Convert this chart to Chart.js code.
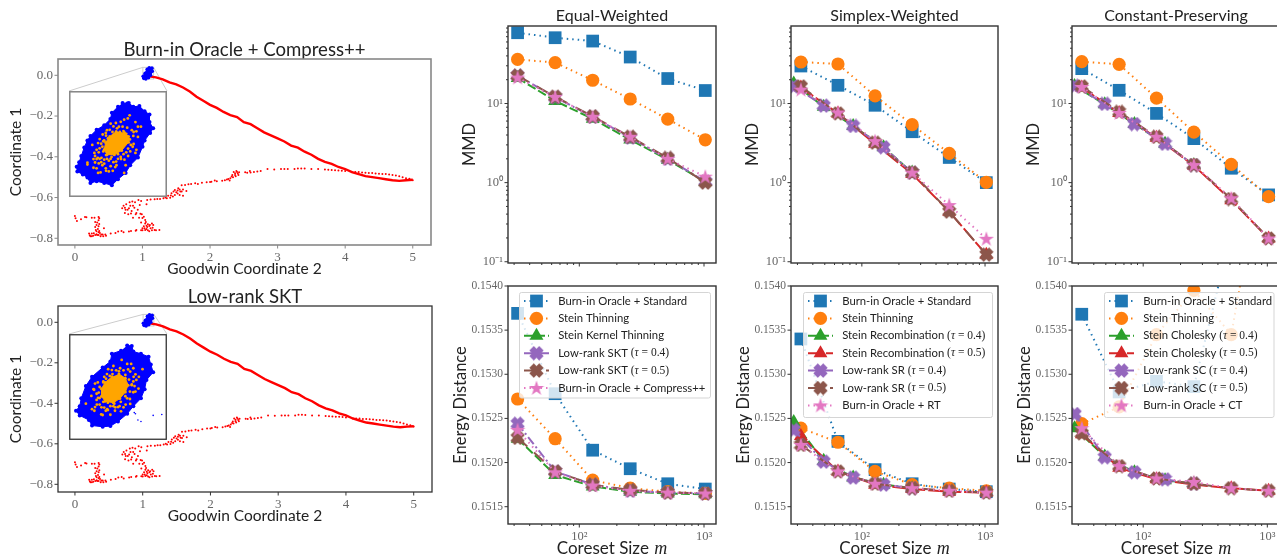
<!DOCTYPE html>
<html>
<head>
<meta charset="utf-8">
<title>Coreset comparison</title>
<script src="https://cdn.jsdelivr.net/npm/chart.js@4/dist/chart.umd.js"></script>
<style>
  html, body { margin: 0; padding: 0; background: #fff; width: 1277px; height: 557px; overflow: hidden; }
  #page { position: relative; width: 1277px; height: 557px; overflow: hidden; }
  canvas { position: absolute; }
</style>
</head>
<body>
<div id="page"></div>
<script>
// --- shared x values ---
const coresetSizes = [32, 64, 128, 256, 512, 1024];
const tauFourSizes = [28, 49, 85, 150, 256];

// --- tick values ---
const xTickValues = [30, 40, 50, 60, 70, 80, 90, 100, 200, 300, 400, 500, 600, 700, 800, 900, 1000];
const mmdTickValues = [0.1, 0.2, 0.3, 0.4, 0.5, 0.6, 0.7, 0.8, 0.9, 1, 2, 3, 4, 5, 6, 7, 8, 9, 10, 20, 30, 40, 50, 60, 70, 80, 90];
const energyTickValues = [0.1515, 0.152, 0.1525, 0.153, 0.1535, 0.154];
const goodwinTickValues = [0, 1, 2, 3, 4, 5];
const coordTickValues = [0, -0.2, -0.4, -0.6, -0.8];

// --- Equal-Weighted, MMD ---
const eqMmdStandard = [78.5, 67.9, 61.6, 38.7, 20.7, 14.6];
const eqMmdStein = [36.2, 32.9, 19.7, 11.4, 6.35, 3.48];
const eqMmdSkt = [21, 10.8, 6.4, 3.5, 1.95, 1.02];
const eqMmdLow4 = [22.5, 12, 6.8, 3.7, 2, 1.03];
const eqMmdLow5 = [22.5, 12.2, 6.9, 3.8, 2.05, 1];
const eqMmdCompress = [21.3, 12.1, 6.8, 3.8, 2, 1.19];

// --- Equal-Weighted, energy distance ---
const eqEdStandard = [0.15369, 0.15278, 0.15214, 0.15193, 0.15176, 0.1517];
const eqEdStein = [0.15272, 0.15227, 0.1518, 0.15171, 0.15167, 0.15165];
const eqEdSkt = [0.15227, 0.15186, 0.15173, 0.15167, 0.15165, 0.15164];
const eqEdLow4 = [0.15244, 0.1519, 0.15175, 0.15168, 0.15166, 0.15165];
const eqEdLow5 = [0.15228, 0.1519, 0.15175, 0.15169, 0.15166, 0.15165];
const eqEdCompress = [0.15237, 0.15189, 0.15174, 0.15168, 0.15166, 0.15165];

// --- Simplex-Weighted, MMD ---
const spMmdStandard = [29.8, 17, 9.5, 4.4, 2.08, 1];
const spMmdStein = [33.5, 31.6, 12.5, 5.4, 2.34, 1.01];
const spMmdRec4 = [17.9, 9.1, 5.2, 2.8, 1.34];
const spMmdRec5 = [15.9, 7.5, 3.1, 1.29, 0.43, 0.123];
const spMmdLow4 = [16.5, 9.4, 5.2, 2.8, 1.34];
const spMmdLow5 = [16.5, 7.5, 3.2, 1.34, 0.43, 0.123];
const spMmdRt = [15, 7.7, 3.35, 1.34, 0.52, 0.195];

// --- Simplex-Weighted, energy distance ---
const spEdStandard = [0.1534, 0.15224, 0.15192, 0.15176, 0.1517, 0.15167];
const spEdStein = [0.15239, 0.15223, 0.1519, 0.15175, 0.15171, 0.15168];
const spEdRec4 = [0.15246, 0.15202, 0.15183, 0.15175, 0.15171];
const spEdRec5 = [0.1523, 0.1519, 0.15175, 0.1517, 0.15167, 0.15166];
const spEdLow4 = [0.15237, 0.15201, 0.15183, 0.15175, 0.15171];
const spEdLow5 = [0.1522, 0.1519, 0.15176, 0.15171, 0.15168, 0.15166];
const spEdRt = [0.1522, 0.1519, 0.15176, 0.15171, 0.15168, 0.15166];

// --- Constant-Preserving, MMD ---
const cpMmdStandard = [27.6, 14.7, 7.5, 3.6, 1.52, 0.7];
const cpMmdStein = [33.8, 31.3, 11.7, 4.35, 1.7, 0.667];
const cpMmdChol4 = [16.7, 9.8, 5.5, 3.1, 1.67];
const cpMmdChol5 = [15.9, 7.6, 3.7, 1.64, 0.6, 0.197];
const cpMmdLow4 = [16.7, 9.9, 5.5, 3.1, 1.67];
const cpMmdLow5 = [16.5, 7.85, 3.8, 1.67, 0.62, 0.197];
const cpMmdCt = [16.2, 7.6, 3.8, 1.67, 0.635, 0.197];

// --- Constant-Preserving, energy distance ---
const cpEdStandard = [0.15368, 0.1528, 0.15292, 0.15286, 0.1546, 0.156];
const cpEdStein = [0.15244, 0.15263, 0.15345, 0.15395, 0.15345, 0.1558];
const cpEdChol4 = [0.15239, 0.15207, 0.15189, 0.1518, 0.15176];
const cpEdChol5 = [0.15232, 0.15194, 0.15181, 0.15175, 0.15171, 0.15168];
const cpEdLow4 = [0.15255, 0.15206, 0.15189, 0.15181, 0.15176];
const cpEdLow5 = [0.15233, 0.15196, 0.15182, 0.15176, 0.15171, 0.15168];
const cpEdCt = [0.15239, 0.15196, 0.15182, 0.15178, 0.15171, 0.15168];

// --- legend labels ---
const eqLabels = ['Burn-in Oracle + Standard', 'Stein Thinning', 'Stein Kernel Thinning', 'Low-rank SKT (τ = 0.4)', 'Low-rank SKT (τ = 0.5)', 'Burn-in Oracle + Compress++'];
const spLabels = ['Burn-in Oracle + Standard', 'Stein Thinning', 'Stein Recombination (τ = 0.4)', 'Stein Recombination (τ = 0.5)', 'Low-rank SR (τ = 0.4)', 'Low-rank SR (τ = 0.5)', 'Burn-in Oracle + RT'];
const cpLabels = ['Burn-in Oracle + Standard', 'Stein Thinning', 'Stein Cholesky (τ = 0.4)', 'Stein Cholesky (τ = 0.5)', 'Low-rank SC (τ = 0.4)', 'Low-rank SC (τ = 0.5)', 'Burn-in Oracle + CT'];

// --- Goodwin trace: the thick descending part ---
const traceX = [1.1, 1.2, 1.3, 1.4, 1.5, 1.6, 1.7, 1.8, 1.9, 2.0, 2.1, 2.2, 2.3, 2.4, 2.5, 2.6, 2.7, 2.8, 2.9, 3.0, 3.1, 3.2, 3.3, 3.4, 3.5, 3.6, 3.7, 3.8, 3.9, 4.0, 4.1, 4.2, 4.3, 4.4, 4.5, 4.6, 4.7, 4.8, 4.9, 5.0];
const traceY = [-0.005, -0.01, -0.02, -0.035, -0.045, -0.06, -0.08, -0.105, -0.125, -0.145, -0.16, -0.18, -0.195, -0.205, -0.23, -0.24, -0.26, -0.28, -0.295, -0.31, -0.325, -0.345, -0.355, -0.375, -0.39, -0.41, -0.425, -0.435, -0.45, -0.46, -0.475, -0.485, -0.495, -0.5, -0.505, -0.51, -0.515, -0.518, -0.515, -0.513];

// --- Goodwin trace: the sparse return part, [x, y] ---
const sparsePoints = [
  [5, -0.515], [4.95, -0.508], [4.9, -0.505], [4.85, -0.5], [4.8, -0.495], [4.7, -0.49], [4.6, -0.485], [4.55, -0.484], [4.5, -0.483], [4.4, -0.48], [4.3, -0.478], [4.2, -0.475], [4.1, -0.475], [4, -0.47], [3.9, -0.467], [3.8, -0.465], [3.7, -0.463], [3.6, -0.46], [3.5, -0.46], [3.3, -0.457], [3.25, -0.46], [3.15, -0.46], [3.05, -0.46], [2.95, -0.462], [2.85, -0.46], [2.75, -0.47], [2.65, -0.475],
  [4.75, -0.492], [4.65, -0.487], [4.45, -0.482], [4.35, -0.479], [4.25, -0.477], [4.15, -0.475], [3.95, -0.468], [3.85, -0.466], [3.75, -0.464], [3.4, -0.458], [3.35, -0.457], [3.1, -0.46], [2.7, -0.472], [2.6, -0.477], [2.55, -0.478],
  [0, -0.691], [0.01, -0.702], [0.03, -0.715], [0.09, -0.707], [0.15, -0.695], [0.17, -0.697], [0.25, -0.699], [0.29, -0.699], [0.35, -0.695], [0.36, -0.702], [0.35, -0.712], [0.33, -0.722], [0.32, -0.735], [0.3, -0.745], [0.35, -0.741], [0.34, -0.754], [0.31, -0.759], [0.36, -0.764], [0.43, -0.751], [0.37, -0.774], [0.39, -0.781], [0.35, -0.784], [0.3, -0.784], [0.25, -0.777], [0.21, -0.777], [0.23, -0.79], [0.27, -0.787], [0.33, -0.784], [0.41, -0.781], [0.46, -0.787], [0.45, -0.781], [0.53, -0.777], [0.6, -0.774], [0.64, -0.767], [0.69, -0.764], [0.72, -0.771], [0.8, -0.767], [0.83, -0.764], [0.9, -0.763], [0.91, -0.759], [1, -0.761], [1.04, -0.759], [1.08, -0.761], [1.14, -0.761], [1.18, -0.759], [1.25, -0.759],
  [0.35, -0.77], [0.32, -0.78], [0.28, -0.775], [0.38, -0.79], [0.42, -0.79], [0.3, -0.72], [0.36, -0.73], [0.32, -0.765], [0.25, -0.79], [0.22, -0.785],
  [1.03, -0.751], [1.07, -0.745], [1.12, -0.751], [1.14, -0.728], [1.08, -0.731], [1.04, -0.728], [1.02, -0.741], [1, -0.751], [1.06, -0.738], [1.11, -0.735], [1.15, -0.748], [0.98, -0.722], [1.04, -0.71], [1.02, -0.694], [0.99, -0.682], [0.95, -0.699], [0.9, -0.682], [0.86, -0.699], [0.83, -0.678], [0.79, -0.682], [0.74, -0.676], [0.7, -0.653], [0.74, -0.65], [0.76, -0.633], [0.81, -0.623], [0.86, -0.64], [0.8, -0.653], [0.84, -0.666], [0.91, -0.676], [0.89, -0.623], [0.94, -0.612], [0.98, -0.617], [0.96, -0.637], [1.06, -0.633], [1.07, -0.612],
  [0.78, -0.66], [0.82, -0.64], [0.88, -0.65], [0.75, -0.66], [0.72, -0.64], [0.85, -0.62], [0.93, -0.66], [0.97, -0.68], [1, -0.7], [1.05, -0.72], [1.1, -0.74], [1.06, -0.755], [1.1, -0.765], [0.98, -0.76], [1.16, -0.735], [1.2, -0.76],
  [1.18, -0.609], [1.26, -0.607], [1.31, -0.604], [1.36, -0.604], [1.38, -0.591], [1.41, -0.601], [1.48, -0.588], [1.43, -0.579], [1.48, -0.563], [1.53, -0.555], [1.58, -0.571], [1.55, -0.588], [1.6, -0.591], [1.65, -0.568], [1.5, -0.574], [1.63, -0.539], [1.68, -0.535], [1.78, -0.53], [1.82, -0.534], [1.95, -0.525], [2.02, -0.522], [2.07, -0.517], [2.27, -0.509], [2.32, -0.497], [2.37, -0.481], [2.39, -0.47], [2.43, -0.476], [2.37, -0.489], [2.29, -0.517], [2.42, -0.489], [2.52, -0.476], [2.59, -0.47],
  [2.3, -0.505], [2.33, -0.49], [2.35, -0.475], [2.38, -0.495], [2.4, -0.475], [2.41, -0.482], [2.34, -0.5], [2.25, -0.512], [2.22, -0.515], [2.18, -0.518], [2.1, -0.52], [2, -0.524], [1.88, -0.528], [1.72, -0.534], [1.58, -0.54], [1.55, -0.56], [1.52, -0.58], [1.45, -0.595], [1.46, -0.57], [1.56, -0.57], [1.52, -0.565], [1.6, -0.56], [1.42, -0.59], [1.34, -0.6], [1.22, -0.607], [1.12, -0.61]
];

// --- blue blob at the start of the trace, real coordinates ---
const blobOutline = [[1.02, -0.015], [1.01, -0.005], [1.04, 0.01], [1.07, 0.03], [1.1, 0.037], [1.14, 0.035], [1.145, 0.02], [1.12, 0], [1.09, -0.012], [1.05, -0.018]];

// --- inset contents, read in inset units (0-98 across, 0-106 up) ---
const insetBlueTop = [[54, 97.3], [59, 96.7], [60.7, 97.3], [65.7, 93.3], [72.3, 94], [78, 88.3], [83.3, 85], [83.3, 76.7], [87.3, 70], [84, 65], [78, 56.7], [75.7, 50], [70.7, 38.3], [62.3, 30], [57.3, 21.7], [49, 15], [42.3, 8.3], [34, 10.7], [25.7, 12.7], [19, 10.7], [15.7, 16.7], [10.7, 20], [4.7, 23.3], [4, 28.3], [6.7, 33.3], [9, 40], [12.3, 49.3], [15.7, 56.7], [19, 61.7], [25.7, 68.3], [34, 73.3], [40.7, 80], [42.3, 86.7], [49, 93.3]];
const insetCoreTop = [[56, 65.5], [60.5, 61], [60.5, 55], [53, 46], [45, 41.5], [37, 41.5], [34, 47], [35.5, 54.5], [40, 61], [47, 66.5]];
const insetOrangeTop = [[61.7, 84], [55.7, 79.3], [59.7, 80.7], [68, 76.7], [46.7, 75.7], [50, 71.7], [54, 71.7], [59, 70.7], [70.7, 71.7], [74, 71.7], [69, 66.7], [65.7, 61.7], [70.7, 60.7], [40, 68.3], [35.7, 65], [32.3, 63.3], [29, 58.3], [27.3, 54], [30.7, 53.3], [29, 48.3], [25.7, 46.7], [23.3, 43.3], [22.3, 36.7], [15.7, 32.7], [15.7, 30.7], [22.3, 27.3], [25.7, 26.7], [30, 22.3], [27.3, 21.7], [35.7, 26.7], [39, 23.3], [43.3, 24], [47.3, 30], [55.7, 21.7], [57.3, 30], [52.3, 36.7], [60, 40], [62.3, 45], [69, 46.7], [68, 43.3], [34, 31.7], [30.7, 33.3], [39, 35], [44, 33.3], [25.7, 36.7], [52, 39], [31, 38], [37, 37], [32, 30], [49, 37], [28, 32], [46, 28], [41, 29], [21, 52], [24, 40], [34, 57], [66, 53], [61, 58], [66, 66], [44, 72], [52, 77], [41, 75],
  [36, 62], [43, 66], [51, 66], [58, 64], [62, 58], [63, 52], [60, 48], [55, 42], [49, 42], [42, 39], [36, 41], [33, 45], [32, 50], [33, 56], [38, 59], [28, 44], [27, 38], [34, 36], [41, 37], [47, 34], [56, 36], [58, 44], [65, 50], [37, 68], [48, 70], [55, 67], [64, 68], [29, 37], [24, 33], [36, 24]];

const insetBlueBottom = [[59, 98], [64, 97.3], [65.7, 91.3], [74, 89], [82.3, 85.7], [84.7, 77.3], [87.3, 69], [80, 60.7], [78, 50.7], [74, 40.7], [65.7, 32.3], [59, 24], [49, 15.7], [40.7, 10.7], [32.3, 10], [20.7, 11.3], [17.3, 17.3], [7.3, 22.3], [3.3, 27.3], [7.3, 32.3], [9, 40.7], [14, 54], [20.7, 64], [32.3, 74], [40.7, 80.7], [42.3, 89], [52.3, 92.3]];
const insetStrayBottom = [[66.7, 25.3], [68, 24], [70.7, 17.3], [74, 15.7], [87.3, 22.3], [96.7, 23.3]];
const insetCoreBottom = [[50, 67], [57, 62.5], [60, 55], [57, 47.5], [51, 40.5], [44, 36], [35, 37.5], [31, 43], [31, 51], [35, 58], [42.5, 64]];
const insetOrangeBottom = [[53, 82.3], [44, 75.7], [59, 78], [63.3, 78], [51.3, 73.3], [38.3, 72.3], [42.3, 71.3], [65.7, 73.3], [75.7, 72.3], [62.3, 69.7], [68, 66.7], [71.7, 64], [69, 60.7], [34, 64], [24, 56.7], [33, 59], [22.3, 50.7], [25.7, 45.7], [20, 43.3], [14, 35], [24, 31.3], [20.7, 29], [23.3, 27.3], [25.7, 39], [29, 34], [30.7, 23.3], [32.3, 22.7], [35.7, 27.3], [40.7, 23], [45.7, 27.3], [49, 31.3], [52.3, 26.7], [57.3, 34], [62.3, 34.7], [59, 40.7], [65.7, 47.3], [71.3, 51.3], [50.7, 32.3], [34, 30.7], [37.3, 29], [27.3, 41.3], [40.7, 32.3], [44, 32.3], [64, 55.7], [65.7, 59],
  [36, 62], [43, 67], [50, 70], [57, 66], [61, 61], [64, 55], [62, 48], [57, 43], [52, 37], [45, 35], [38, 36], [33, 37], [29, 41], [28, 47], [29, 53], [33, 58], [40, 65], [47, 71], [55, 71], [60, 72], [66, 64], [67, 54], [26, 34], [31, 31], [38, 28], [46, 31], [55, 31], [62, 40], [23, 50], [27, 58], [37, 67], [68, 48]];

// --- fonts ---
const sansFont = 'Lato, "Open Sans", sans-serif';
const serifFont = '"Liberation Serif", serif';
const inkColor = '#222';
const tickTextColor = '#666';

// --- filled markers that Chart.js does not have ---
function makeCross(size, color) {
  const c = document.createElement('canvas');
  c.width = size; c.height = size;
  const g = c.getContext('2d');
  g.strokeStyle = color;
  g.lineWidth = size * 0.42;
  const a = size * 0.17, b = size * 0.83;
  g.beginPath();
  g.moveTo(a, a); g.lineTo(b, b);
  g.moveTo(b, a); g.lineTo(a, b);
  g.stroke();
  return c;
}

function makeStar(size, color) {
  const c = document.createElement('canvas');
  c.width = size; c.height = size;
  const g = c.getContext('2d');
  g.fillStyle = color;
  g.beginPath();
  for (let i = 0; i < 10; i++) {
    const r = (i % 2 ? 0.38 : 1) * size / 2;
    const a = -Math.PI / 2 + i * Math.PI / 5;
    g.lineTo(size / 2 + r * Math.cos(a), size / 2 + 0.5 + r * Math.sin(a));
  }
  g.closePath();
  g.fill();
  return c;
}

// --- one look per method ---
const looks = {
  standard: { color: '#1f77b4', pointStyle: 'rect', radius: 9, dash: [1.5, 4] },
  stein: { color: '#ff7f0e', pointStyle: 'circle', radius: 6.6, dash: [1.5, 4] },
  green: { color: '#2ca02c', pointStyle: 'triangle', radius: 8, dash: [9, 3] },
  red: { color: '#d62728', pointStyle: 'triangle', radius: 8, dash: [15, 3] },
  purple: { color: '#9467bd', pointStyle: makeCross(15, '#9467bd'), radius: 7.5, dash: [9, 3, 2, 3] },
  brown: { color: '#8c564b', pointStyle: makeCross(15, '#8c564b'), radius: 7.5, dash: [13, 9] },
  pink: { color: '#e377c2', pointStyle: makeStar(16, '#e377c2'), radius: 8, dash: [1.5, 4] }
};

function pairs(xs, ys) {
  return xs.map((x, i) => ({ x: x, y: ys[i] }));
}

function makeSeries(look, label, xs, ys, index) {
  return {
    label: label,
    data: pairs(xs, ys),
    showLine: true,
    borderColor: look.color,
    backgroundColor: look.color,
    borderWidth: 2,
    borderDash: look.dash,
    pointStyle: look.pointStyle,
    pointRadius: look.radius,
    pointBorderWidth: 0,
    order: -index // later series sit on top
  };
}

// frame round the plot and tick marks, long for decades and short otherwise
const framePlugin = {
  id: 'frame',
  afterDraw(chart, args, opts) {
    const ctx = chart.ctx;
    const a = chart.chartArea;
    ctx.save();
    ctx.strokeStyle = opts.color;
    ctx.lineWidth = opts.width;
    ctx.strokeRect(a.left, a.top, a.right - a.left, a.bottom - a.top);
    ctx.lineWidth = 1;
    ctx.beginPath();
    chart.scales.x.ticks.forEach(t => {
      const p = chart.scales.x.getPixelForValue(t.value);
      const len = opts.isMajorX(t.value) ? 3.5 : 2;
      ctx.moveTo(p, a.bottom);
      ctx.lineTo(p, a.bottom + len);
    });
    chart.scales.y.ticks.forEach(t => {
      const p = chart.scales.y.getPixelForValue(t.value);
      const len = opts.isMajorY(t.value) ? 3.5 : 2;
      ctx.moveTo(a.left, p);
      ctx.lineTo(a.left - len, p);
    });
    ctx.stroke();
    ctx.restore();
  }
};

// legend with both line and marker, on top of the data and half see-through
const boxLegendPlugin = {
  id: 'boxLegend',
  afterDraw(chart, args, opts) {
    if (!opts.box) return;
    const ctx = chart.ctx;
    const canvasLeft = chart.canvas.offsetLeft, canvasTop = chart.canvas.offsetTop;
    const b = opts.box;
    ctx.save();
    ctx.translate(-canvasLeft, -canvasTop);
    ctx.fillStyle = 'rgba(255,255,255,0.8)';
    ctx.strokeStyle = '#d5d5d5';
    ctx.lineWidth = 1;
    ctx.beginPath();
    ctx.roundRect(b.left, b.top, b.right - b.left, b.bottom - b.top, 2);
    ctx.fill();
    ctx.stroke();
    chart.data.datasets.forEach((ds, i) => {
      const y = b.top + 8.5 + i * 17.4;
      ctx.strokeStyle = ds.borderColor;
      ctx.lineWidth = 2;
      ctx.setLineDash(ds.borderDash);
      ctx.beginPath();
      ctx.moveTo(b.left + 4.5, y);
      ctx.lineTo(b.left + 29.5, y);
      ctx.stroke();
      ctx.setLineDash([]);
      ctx.fillStyle = ds.backgroundColor;
      Chart.helpers.drawPoint(ctx, { pointStyle: ds.pointStyle, radius: ds.pointRadius, rotation: 0 }, b.left + 17, y);
      drawLegendLabel(ctx, ds.label, b.left + 38.7, y);
    });
    ctx.restore();
  }
};

// name in sans, "(τ = 0.4)" in serif with an italic τ
function drawLegendLabel(ctx, label, x, y) {
  const cut = label.indexOf(' (');
  const runs = cut < 0 ? [[label, '11.3px ' + sansFont]] : [
    [label.slice(0, cut), '11.3px ' + sansFont],
    [' (', '11.5px ' + serifFont],
    ['τ', 'italic 11.5px ' + serifFont],
    [label.slice(cut + 3), '11.5px ' + serifFont]
  ];
  ctx.fillStyle = inkColor;
  ctx.textBaseline = 'middle';
  ctx.textAlign = 'left';
  runs.forEach(run => {
    ctx.font = run[1];
    ctx.fillText(run[0], x, y);
    x += ctx.measureText(run[0]).width;
  });
}

// "Coreset Size m" has an italic m so it is drawn in two runs
const coresetTitlePlugin = {
  id: 'coresetTitle',
  afterDraw(chart, args, opts) {
    if (!opts.show) return;
    const ctx = chart.ctx;
    const a = chart.chartArea;
    const mid = (a.left + a.right) / 2;
    ctx.save();
    ctx.fillStyle = inkColor;
    ctx.textBaseline = 'middle';
    ctx.textAlign = 'left';
    ctx.font = '17px ' + sansFont;
    const w = ctx.measureText('Coreset Size ').width;
    ctx.fillText('Coreset Size ', mid - (w + 14) / 2, a.bottom + 25);
    ctx.font = 'italic 18px ' + serifFont;
    ctx.fillText('m', mid - (w + 14) / 2 + w + 1, a.bottom + 25);
    ctx.restore();
  }
};

function addCanvas(left, top, width, height) {
  const c = document.createElement('canvas');
  c.width = width;
  c.height = height;
  c.style.left = left + 'px';
  c.style.top = top + 'px';
  c.style.width = width + 'px';
  c.style.height = height + 'px';
  document.getElementById('page').appendChild(c);
  return c;
}

function fixedBox(size, key) {
  return function (s) {
    s[key] = size;
    s.paddingLeft = s.paddingRight = s.paddingTop = s.paddingBottom = 0;
  };
}

function superscript(v) {
  if (v === 0.1) return '10⁻¹';
  if (v === 1) return '10⁰';
  if (v === 10) return '10¹';
  if (v === 100) return '10²';
  if (v === 1000) return '10³';
  return '';
}

// one of the six method panels
function methodPanel(p) {
  const marginLeft = 58, marginRight = 10;
  const marginTop = p.title ? 26 : 10;
  const marginBottom = p.row === 'bottom' ? 33 : 16;
  const canvas = addCanvas(p.left - marginLeft, p.top - marginTop, p.right - p.left + marginLeft + marginRight, p.bottom - p.top + marginTop + marginBottom);
  new Chart(canvas, {
    type: 'scatter',
    data: { datasets: p.series },
    plugins: [framePlugin, boxLegendPlugin, coresetTitlePlugin],
    options: {
      responsive: false,
      animation: false,
      devicePixelRatio: 1,
      layout: { padding: { top: p.title ? 0 : marginTop, right: marginRight } },
      plugins: {
        legend: { display: false },
        tooltip: { enabled: false },
        title: { display: !!p.title, fullSize: false, text: p.title, color: inkColor, font: { family: sansFont, size: 16, weight: 'normal', lineHeight: '20px' }, padding: { top: 6, bottom: 0 } },
        frame: { color: '#333', width: 1.4, isMajorX: v => superscript(v) !== '', isMajorY: p.isMajorY },
        boxLegend: { box: p.legendBox },
        coresetTitle: { show: p.row === 'bottom' }
      },
      scales: {
        x: {
          type: 'logarithmic',
          min: p.xMin,
          max: p.xMax,
          afterBuildTicks: s => { s.ticks = xTickValues.map(v => ({ value: v })); },
          afterFit: fixedBox(marginBottom, 'height'),
          grid: { display: false, drawTicks: false },
          border: { display: false },
          ticks: {
            autoSkip: false, maxRotation: 0, padding: 5, color: tickTextColor,
            font: { family: serifFont, size: 12.5 },
            callback: v => (p.row === 'bottom' ? superscript(v) : '')
          }
        },
        y: {
          type: p.yType,
          min: p.yMin,
          max: p.yMax,
          afterBuildTicks: s => { s.ticks = p.yTicks.map(v => ({ value: v })); },
          afterFit: fixedBox(marginLeft, 'width'),
          grid: { display: false, drawTicks: false },
          border: { display: false },
          title: { display: true, text: p.yTitle, color: inkColor, font: { family: sansFont, size: 16.5, weight: 'normal' }, padding: { top: p.yTitlePad, bottom: 0 } },
          ticks: {
            autoSkip: false, maxRotation: 0, padding: 5, color: tickTextColor,
            font: { family: serifFont, size: p.yTickSize },
            callback: p.yLabel
          }
        }
      }
    }
  });
}

const columns = [
  { left: 508, right: 716, xMin: 26.8, xMax: 1248 },
  { left: 791, right: 998, xMin: 26.6, xMax: 1274 },
  { left: 1072, right: 1280, xMin: 26.7, xMax: 1265 }
];

function mmdPanel(col, title, series) {
  methodPanel(Object.assign({}, col, {
    row: 'top', top: 26, bottom: 263, title: title, series: series,
    yType: 'logarithmic', yMin: 0.0964, yMax: 95.5, yTicks: mmdTickValues, yTickSize: 12.5,
    yLabel: superscript, isMajorY: v => superscript(v) !== '', yTitle: 'MMD', yTitlePad: 10
  }));
}

function energyPanel(col, series, legendBox) {
  methodPanel(Object.assign({}, col, {
    row: 'bottom', top: 286, bottom: 524, series: series, legendBox: legendBox,
    yType: 'linear', yMin: 0.151304, yMax: 0.154, yTicks: energyTickValues, yTickSize: 11.5,
    yLabel: v => v.toFixed(4), isMajorY: () => true, yTitle: 'Energy Distance', yTitlePad: 1
  }));
}

mmdPanel(columns[0], 'Equal-Weighted', [
  makeSeries(looks.standard, eqLabels[0], coresetSizes, eqMmdStandard, 0),
  makeSeries(looks.stein, eqLabels[1], coresetSizes, eqMmdStein, 1),
  makeSeries(looks.green, eqLabels[2], coresetSizes, eqMmdSkt, 2),
  makeSeries(looks.purple, eqLabels[3], coresetSizes, eqMmdLow4, 3),
  makeSeries(looks.brown, eqLabels[4], coresetSizes, eqMmdLow5, 4),
  makeSeries(looks.pink, eqLabels[5], coresetSizes, eqMmdCompress, 5)
]);
energyPanel(columns[0], [
  makeSeries(looks.standard, eqLabels[0], coresetSizes, eqEdStandard, 0),
  makeSeries(looks.stein, eqLabels[1], coresetSizes, eqEdStein, 1),
  makeSeries(looks.green, eqLabels[2], coresetSizes, eqEdSkt, 2),
  makeSeries(looks.purple, eqLabels[3], coresetSizes, eqEdLow4, 3),
  makeSeries(looks.brown, eqLabels[4], coresetSizes, eqEdLow5, 4),
  makeSeries(looks.pink, eqLabels[5], coresetSizes, eqEdCompress, 5)
], { left: 519.5, top: 292.5, right: 710.5, bottom: 398 });

mmdPanel(columns[1], 'Simplex-Weighted', [
  makeSeries(looks.standard, spLabels[0], coresetSizes, spMmdStandard, 0),
  makeSeries(looks.stein, spLabels[1], coresetSizes, spMmdStein, 1),
  makeSeries(looks.green, spLabels[2], tauFourSizes, spMmdRec4, 2),
  makeSeries(looks.red, spLabels[3], coresetSizes, spMmdRec5, 3),
  makeSeries(looks.purple, spLabels[4], tauFourSizes, spMmdLow4, 4),
  makeSeries(looks.brown, spLabels[5], coresetSizes, spMmdLow5, 5),
  makeSeries(looks.pink, spLabels[6], coresetSizes, spMmdRt, 6)
]);
energyPanel(columns[1], [
  makeSeries(looks.standard, spLabels[0], coresetSizes, spEdStandard, 0),
  makeSeries(looks.stein, spLabels[1], coresetSizes, spEdStein, 1),
  makeSeries(looks.green, spLabels[2], tauFourSizes, spEdRec4, 2),
  makeSeries(looks.red, spLabels[3], coresetSizes, spEdRec5, 3),
  makeSeries(looks.purple, spLabels[4], tauFourSizes, spEdLow4, 4),
  makeSeries(looks.brown, spLabels[5], coresetSizes, spEdLow5, 5),
  makeSeries(looks.pink, spLabels[6], coresetSizes, spEdRt, 6)
], { left: 803.5, top: 292.5, right: 992.5, bottom: 417.5 });

mmdPanel(columns[2], 'Constant-Preserving', [
  makeSeries(looks.standard, cpLabels[0], coresetSizes, cpMmdStandard, 0),
  makeSeries(looks.stein, cpLabels[1], coresetSizes, cpMmdStein, 1),
  makeSeries(looks.green, cpLabels[2], tauFourSizes, cpMmdChol4, 2),
  makeSeries(looks.red, cpLabels[3], coresetSizes, cpMmdChol5, 3),
  makeSeries(looks.purple, cpLabels[4], tauFourSizes, cpMmdLow4, 4),
  makeSeries(looks.brown, cpLabels[5], coresetSizes, cpMmdLow5, 5),
  makeSeries(looks.pink, cpLabels[6], coresetSizes, cpMmdCt, 6)
]);
energyPanel(columns[2], [
  makeSeries(looks.standard, cpLabels[0], coresetSizes, cpEdStandard, 0),
  makeSeries(looks.stein, cpLabels[1], coresetSizes, cpEdStein, 1),
  makeSeries(looks.green, cpLabels[2], tauFourSizes, cpEdChol4, 2),
  makeSeries(looks.red, cpLabels[3], coresetSizes, cpEdChol5, 3),
  makeSeries(looks.purple, cpLabels[4], tauFourSizes, cpEdLow4, 4),
  makeSeries(looks.brown, cpLabels[5], coresetSizes, cpEdLow5, 5),
  makeSeries(looks.pink, cpLabels[6], coresetSizes, cpEdCt, 6)
], { left: 1104.5, top: 292.5, right: 1274, bottom: 417.5 });

// grey connector from the blob to the inset
const connectorPlugin = {
  id: 'connector',
  beforeDatasetsDraw(chart, args, opts) {
    const ctx = chart.ctx;
    const x = chart.scales.x, y = chart.scales.y;
    const canvasLeft = chart.canvas.offsetLeft, canvasTop = chart.canvas.offsetTop;
    const l = x.getPixelForValue(1.006), r = x.getPixelForValue(1.165);
    const t = y.getPixelForValue(0.039), b = y.getPixelForValue(-0.018);
    ctx.save();
    ctx.strokeStyle = '#ccc';
    ctx.lineWidth = 1;
    ctx.strokeRect(l, t, r - l, b - t);
    ctx.beginPath();
    ctx.moveTo(opts.insetLeft - canvasLeft, opts.insetTop - canvasTop);
    ctx.lineTo(l, t);
    ctx.moveTo(opts.insetRight - canvasLeft, opts.insetTop - canvasTop);
    ctx.lineTo(r, t);
    ctx.stroke();
    ctx.restore();
  }
};

// the two Goodwin trace panels
function tracePanel(p) {
  const marginLeft = 58, marginRight = 6, marginTop = 36, marginBottom = 36;
  const canvas = addCanvas(p.left - marginLeft, p.top - marginTop, p.right - p.left + marginLeft + marginRight, p.bottom - p.top + marginTop + marginBottom);
  new Chart(canvas, {
    type: 'scatter',
    data: {
      datasets: [
        { data: sparsePoints.map(q => ({ x: q[0], y: q[1] })), pointRadius: 1, pointBorderWidth: 0, backgroundColor: '#ff0000', order: 3 },
        { data: pairs(traceX, traceY), showLine: true, borderColor: '#ff0000', borderWidth: 2.4, pointRadius: 0, order: 2 },
        { data: blobOutline.map(q => ({ x: q[0], y: q[1] })), showLine: true, fill: 'shape', borderColor: '#0000ff', backgroundColor: '#0000ff', borderWidth: 1.5, pointRadius: 1.8, pointBorderWidth: 0, order: 1 }
      ]
    },
    plugins: [framePlugin, connectorPlugin],
    options: {
      responsive: false,
      animation: false,
      devicePixelRatio: 1,
      layout: { padding: { right: marginRight } },
      plugins: {
        legend: { display: false },
        tooltip: { enabled: false },
        title: { display: true, fullSize: false, text: p.title, color: inkColor, font: { family: sansFont, size: 18.6, weight: 'normal', lineHeight: '18px' }, padding: { top: 18, bottom: 0 } },
        frame: { color: p.frameColor, width: p.frameWidth, isMajorX: () => true, isMajorY: () => true },
        connector: { insetLeft: 69, insetRight: 167, insetTop: p.insetTop }
      },
      scales: {
        x: {
          type: 'linear',
          min: p.xMin,
          max: p.xMax,
          afterBuildTicks: s => { s.ticks = goodwinTickValues.map(v => ({ value: v })); },
          afterFit: fixedBox(marginBottom, 'height'),
          grid: { display: false, drawTicks: false },
          border: { display: false },
          title: { display: true, text: 'Goodwin Coordinate 2', color: inkColor, font: { family: sansFont, size: 15.5, weight: 'normal' }, padding: { top: 0, bottom: 2.7 } },
          ticks: { autoSkip: false, maxRotation: 0, padding: 5, color: tickTextColor, font: { family: serifFont, size: 13 }, callback: v => String(v) }
        },
        y: {
          type: 'linear',
          min: p.yMin,
          max: p.yMax,
          afterBuildTicks: s => { s.ticks = coordTickValues.map(v => ({ value: v })); },
          afterFit: fixedBox(marginLeft, 'width'),
          grid: { display: false, drawTicks: false },
          border: { display: false },
          title: { display: true, text: 'Coordinate 1', color: inkColor, font: { family: sansFont, size: 15.5, weight: 'normal' }, padding: { top: 6.7, bottom: 0 } },
          ticks: { autoSkip: false, maxRotation: 0, padding: 5, color: tickTextColor, font: { family: serifFont, size: 13 }, callback: v => v.toFixed(1).replace('-', '\u2212') }
        }
      }
    }
  });
}

// zoomed inset over a trace panel
const insetPlugin = {
  id: 'insetBack',
  beforeDraw(chart) {
    chart.ctx.fillStyle = '#fff';
    chart.ctx.fillRect(0, 0, chart.width, chart.height);
  },
  afterDraw(chart, args, opts) {
    chart.ctx.strokeStyle = opts.color;
    chart.ctx.lineWidth = opts.width;
    chart.ctx.strokeRect(0.75, 0.75, chart.width - 1.5, chart.height - 1.5);
  }
};

function insetPanel(p) {
  const canvas = addCanvas(p.left, p.top, 98, 106);
  const toPoints = list => list.map(q => ({ x: q[0], y: q[1] }));
  new Chart(canvas, {
    type: 'scatter',
    data: {
      datasets: [
        { data: toPoints(p.blue), showLine: true, fill: 'shape', borderColor: '#0000ff', backgroundColor: '#0000ff', borderWidth: 1, pointRadius: 2, pointBorderWidth: 0, order: 4 },
        { data: toPoints(p.stray), pointRadius: 0.8, pointBorderWidth: 0, backgroundColor: '#0000ff', order: 3 },
        { data: toPoints(p.core), showLine: true, fill: 'shape', borderColor: 'orange', backgroundColor: 'orange', borderWidth: 1, pointRadius: 1.5, pointBorderWidth: 0, order: 2 },
        { data: toPoints(p.orange), pointRadius: 1.4, pointBorderWidth: 0, backgroundColor: 'orange', order: 1 }
      ]
    },
    plugins: [insetPlugin],
    options: {
      responsive: false,
      animation: false,
      devicePixelRatio: 1,
      plugins: {
        legend: { display: false },
        tooltip: { enabled: false },
        insetBack: { color: p.frameColor, width: p.frameWidth }
      },
      scales: {
        x: { display: false, min: 0, max: 98 },
        y: { display: false, min: 0, max: 106 }
      }
    }
  });
}

tracePanel({ left: 58, right: 431, top: 59, bottom: 245, xMin: -0.25, xMax: 5.27, yMin: -0.833, yMax: 0.08, title: 'Burn-in Oracle + Compress++', frameColor: '#888', frameWidth: 1.6, insetTop: 91 });
tracePanel({ left: 58, right: 432, top: 306, bottom: 492, xMin: -0.25, xMax: 5.27, yMin: -0.838, yMax: 0.0805, title: 'Low-rank SKT', frameColor: '#333', frameWidth: 1.3, insetTop: 334 });
insetPanel({ left: 69, top: 91, blue: insetBlueTop, stray: [], core: insetCoreTop, orange: insetOrangeTop, frameColor: '#888', frameWidth: 1.6 });
insetPanel({ left: 69, top: 334, blue: insetBlueBottom, stray: insetStrayBottom, core: insetCoreBottom, orange: insetOrangeBottom, frameColor: '#333', frameWidth: 1.3 });
</script>
</body>
</html>
